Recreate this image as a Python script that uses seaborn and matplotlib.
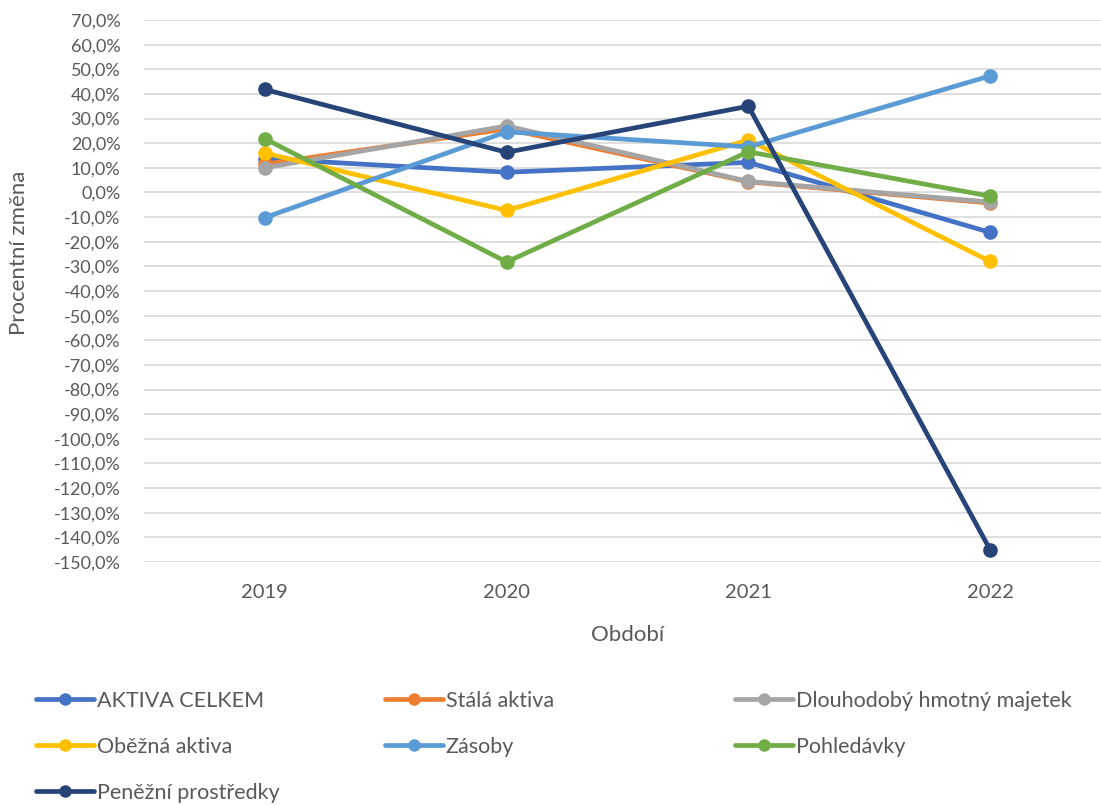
import matplotlib
matplotlib.use("Agg")
import matplotlib.pyplot as plt
from matplotlib.lines import Line2D
from matplotlib.ticker import FuncFormatter, MultipleLocator
import pandas as pd
import seaborn as sns

# Meziroční procentní změny položek aktiv
years = ["2019", "2020", "2021", "2022"]
aktiva_celkem = [13.7, 8.2, 12.2, -16.2]
stala_aktiva = [11.5, 25.8, 4.3, -4.3]
dlouhodoby_majetek = [10.0, 27.0, 4.5, -3.9]
obezna_aktiva = [16.0, -7.3, 21.3, -28.0]
zasoby = [-10.2, 24.6, 18.5, 47.3]
pohledavky = [21.8, -28.2, 16.5, -1.5]
penezni_prostredky = [41.8, 16.3, 35.0, -145.0]

series_names = ["AKTIVA CELKEM", "Stálá aktiva", "Dlouhodobý hmotný majetek",
                "Oběžná aktiva", "Zásoby", "Pohledávky", "Peněžní prostředky"]
series_values = [aktiva_celkem, stala_aktiva, dlouhodoby_majetek, obezna_aktiva,
                 zasoby, pohledavky, penezni_prostredky]
colors = ["#4472C4", "#ED7D31", "#A5A5A5", "#FFC000", "#5B9BD5", "#70AD47", "#264478"]

rows = []
for name, vals in zip(series_names, series_values):
    for i, (y, v) in enumerate(zip(years, vals)):
        rows.append({"Období": i, "Rok": y, "Změna": v, "Položka": name})
df = pd.DataFrame(rows)

sns.set_theme(style="white")
plt.rcParams["font.family"] = ["Lato", "DejaVu Sans"]
text_color = "#595959"

fig = plt.figure(figsize=(11.01, 8.05), dpi=100)
W, H = 1101, 805
left, right, top, bottom = 144, 1111, 20, 562
ax = fig.add_axes([left / W, 1 - bottom / H, (right - left) / W, (bottom - top) / H])

for k, (name, col) in enumerate(zip(series_names, colors)):
    sns.lineplot(data=df[df["Položka"] == name], x="Období", y="Změna", ax=ax,
                 color=col, linewidth=3.4, marker="o", markersize=10.5,
                 markeredgewidth=0, legend=False, zorder=3 + k)

ax.set_xlim(-0.5, 3.5)
ax.set_ylim(-150, 70)
ax.set_xticks(range(len(years)))
ax.set_xticklabels(years)
ax.yaxis.set_major_locator(MultipleLocator(10))
ax.yaxis.set_major_formatter(FuncFormatter(lambda v, p: f"{v:.1f}%".replace(".", ",")))
ax.grid(axis="y", color="#D9D9D9", linewidth=1.2, zorder=0)
ax.grid(axis="x", visible=False)
for s in ax.spines.values():
    s.set_visible(False)
ax.tick_params(axis="y", length=0, pad=17, labelsize=13, labelcolor=text_color)
ax.tick_params(axis="x", length=0, pad=16, labelsize=14.5, labelcolor=text_color)
ax.set_xlabel("Období", fontsize=16, color=text_color, labelpad=17)
ax.set_ylabel("Procentní změna", fontsize=16, color=text_color)
ax.yaxis.set_label_coords((29 - left) / (right - left), (bottom - 253) / (bottom - top))

# Legenda ve třech sloupcích
handles = [Line2D([0], [0], color=c, linewidth=3.4, marker="o", markersize=9,
                  markeredgewidth=0) for c in colors]
columns = [[0, 3, 6], [1, 4], [2, 5]]
col_x = [36, 385, 735]
for xs, idx in zip(col_x, columns):
    leg = fig.legend([handles[i] for i in idx], [series_names[i] for i in idx],
                     loc="upper left", bbox_to_anchor=(xs / W, 1 - 691 / H),
                     frameon=False, fontsize=15.5, handlelength=2.7,
                     handletextpad=0.12, labelspacing=1.2, borderpad=0,
                     borderaxespad=0)
    for t in leg.get_texts():
        t.set_color(text_color)

fig.savefig("out.png", dpi=100)
